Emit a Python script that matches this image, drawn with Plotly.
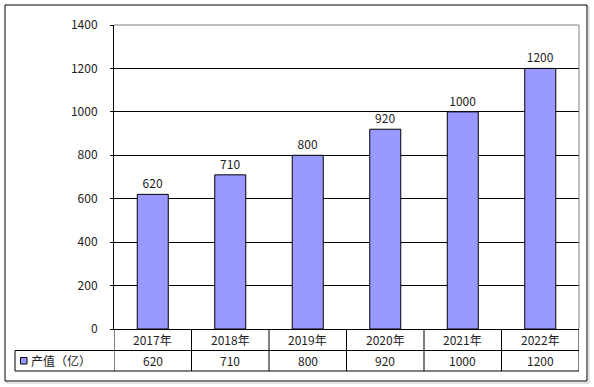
import plotly.graph_objects as go

years = ["2017年", "2018年", "2019年", "2020年", "2021年", "2022年"]
values = [620, 710, 800, 920, 1000, 1200]
series_name = "产值（亿）"
y_ticks = [0, 200, 400, 600, 800, 1000, 1200, 1400]

W, H = 594, 387
FONT = "Noto Sans CJK SC"
BAR = "#9999FF"
TXT = "#222222"

def px(x):
    return x / W

def py(y):
    return 1 - y / H

plot_l, plot_r, plot_t, plot_b = 114, 579, 25, 329
row1_b, row2_b, table_l = 350.5, 371, 15

fig = go.Figure()
fig.add_trace(go.Bar(
    x=years, y=values, width=0.4,
    marker=dict(color=BAR, line=dict(color="#000000", width=1)),
    text=[str(v) for v in values], textposition="outside",
    textfont=dict(family=FONT, size=12, color=TXT),
    cliponaxis=False, showlegend=False,
))

shapes = []
# outer frame with faint shadow
shapes.append(dict(type="rect", xref="paper", yref="paper", x0=px(7), x1=px(589), y0=py(383), y1=py(7),
                   line=dict(color="#C8C8C8", width=1), layer="below"))
shapes.append(dict(type="rect", xref="paper", yref="paper", x0=px(5), x1=px(587), y0=py(381), y1=py(5),
                   line=dict(color="#000000", width=1), fillcolor="white", layer="below"))
# plot area top & right border (gray)
shapes.append(dict(type="line", xref="paper", yref="paper", x0=px(plot_l), x1=px(plot_r), y0=py(plot_t), y1=py(plot_t),
                   line=dict(color="#808080", width=1)))
shapes.append(dict(type="line", xref="paper", yref="paper", x0=px(plot_r), x1=px(plot_r), y0=py(plot_t), y1=py(plot_b),
                   line=dict(color="#808080", width=1)))
# table horizontal lines
for yy in (row1_b, row2_b):
    shapes.append(dict(type="line", xref="paper", yref="paper", x0=px(table_l), x1=px(plot_r), y0=py(yy), y1=py(yy),
                       line=dict(color="#000000", width=1)))
# table vertical lines (category boundaries)
for i in range(len(years) + 1):
    shapes.append(dict(type="line", xref="x", yref="paper", x0=i - 0.5, x1=i - 0.5, y0=py(row2_b), y1=py(plot_b),
                       line=dict(color="#000000", width=1)))
shapes.append(dict(type="line", xref="paper", yref="paper", x0=px(table_l), x1=px(table_l), y0=py(row2_b), y1=py(row1_b),
                   line=dict(color="#000000", width=1)))
# legend key square
shapes.append(dict(type="rect", xref="paper", yref="paper", x0=px(20.5), x1=px(27), y0=py(364), y1=py(357.5),
                   fillcolor=BAR, line=dict(color="#000000", width=1)))

annotations = []
for i, (yr, v) in enumerate(zip(years, values)):
    annotations.append(dict(x=i, y=py((plot_b + row1_b) / 2), xref="x", yref="paper", text=yr, showarrow=False,
                            font=dict(family=FONT, size=12, color=TXT), xanchor="center", yanchor="middle"))
    annotations.append(dict(x=i, y=py((row1_b + row2_b) / 2), xref="x", yref="paper", text=str(v), showarrow=False,
                            font=dict(family=FONT, size=12, color=TXT), xanchor="center", yanchor="middle"))
annotations.append(dict(x=px(29), y=py((row1_b + row2_b) / 2), xref="paper", yref="paper", text=series_name,
                        showarrow=False, font=dict(family=FONT, size=12, color=TXT), xanchor="left", yanchor="middle"))

fig.update_layout(
    width=W, height=H, margin=dict(l=0, r=0, t=0, b=0, pad=0), autosize=False,
    paper_bgcolor="white", plot_bgcolor="rgba(0,0,0,0)",
    shapes=shapes, annotations=annotations,
    xaxis=dict(domain=[px(plot_l), px(plot_r)], range=[-0.5, len(years) - 0.5], showticklabels=False,
               showgrid=False, showline=True, linecolor="#000000", linewidth=1, zeroline=False, ticks="",
               automargin=False),
    yaxis=dict(domain=[py(plot_b), py(plot_t)], range=[0, 1400], tickvals=y_ticks,
               ticktext=[str(t) for t in y_ticks], showgrid=True, gridcolor="#000000", gridwidth=1,
               showline=True, linecolor="#000000", linewidth=1, zeroline=False, ticks="outside", ticklen=3,
               tickcolor="#000000", ticklabelstandoff=10, automargin=False,
               tickfont=dict(family=FONT, size=12, color=TXT)),
    bargap=0.6,
)

fig.write_html("out.html", config={"responsive": False, "displayModeBar": False},
               post_script="document.body.style.margin='0';document.body.style.overflow='hidden';")
